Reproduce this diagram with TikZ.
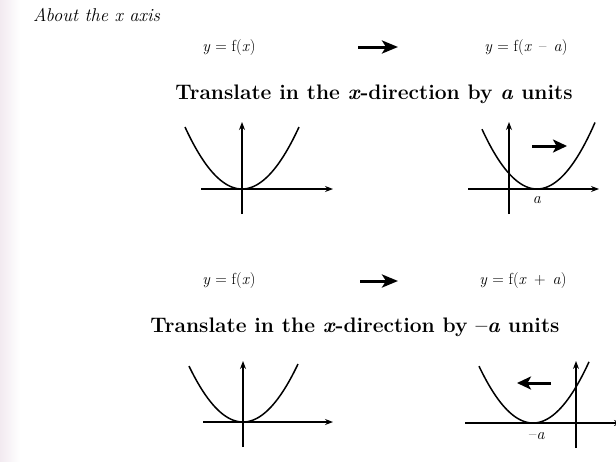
\documentclass[tikz,border=0pt]{standalone}
\usetikzlibrary{arrows.meta}
\definecolor{pageedge}{RGB}{242,234,240}
\newcommand{\vy}{\textit{y}}
\newcommand{\vx}{\textit{x}}
\newcommand{\va}{\textit{a}}
\newcommand{\opsp}{\hspace{0.45em}}
\begin{document}
\begin{tikzpicture}[x=1pt,y=-1pt,
  axis/.style={line width=1.1pt,-{Stealth[length=8pt,width=6pt]}},
  curve/.style={line width=1.5pt},
  bigarrow/.style={line width=3pt,-{Stealth[length=16pt,width=13pt,inset=4pt]}},
  midarrow/.style={line width=3pt,-{Stealth[length=14pt,width=13pt,inset=3.5pt]}},
  formula/.style={font=\fontsize{16}{19}\selectfont, inner sep=0pt},
  heading/.style={font=\bfseries\fontsize{21}{24}\selectfont, inner sep=0pt},
  caption/.style={font=\itshape\fontsize{18.5}{21}\selectfont, inner sep=0pt, anchor=west},
  lbl/.style={font=\fontsize{16}{18}\selectfont, inner sep=0pt}]
\clip (0,0) rectangle (616,461);
\fill[left color=pageedge, right color=white] (0,0) rectangle (20,461);

% title
\node[caption] (cap) at (33,15) {About the x axis};

% first rule
\node[formula] (f1) at (229,48) {\vy{} = f(\vx)};
\node[formula] (f2) at (526,48) {\vy{} = f(\vx\opsp\textendash\opsp\va)};
\coordinate (r1s) at (358,47);
\coordinate (r1e) at (398,47);
\draw[bigarrow] (r1s) -- (r1e);
\node[heading] (h1) at (374,94) {Translate in the \textit{x}-direction by \textit{a} units};

% top-left graph
\coordinate (tlxa) at (201,189); \coordinate (tlxb) at (333,189);
\coordinate (tlya) at (242,214); \coordinate (tlyb) at (242,122);
\draw[axis] (tlxa) -- (tlxb);
\draw[axis] (tlya) -- (tlyb);
\draw[curve] plot[domain=-57:57, samples=60, smooth] ({242+\x},{189-62*(\x/57)^2});

% top-right graph
\coordinate (trxa) at (468,189); \coordinate (trxb) at (599,189);
\coordinate (trya) at (509,214); \coordinate (tryb) at (509,122);
\draw[axis] (trxa) -- (trxb);
\draw[axis] (trya) -- (tryb);
\draw[curve] plot[domain=-55:58, samples=60, smooth] ({537+\x},{189-62*(\x/56)^2});
\coordinate (m1s) at (532,146); \coordinate (m1e) at (567,146);
\draw[midarrow] (m1s) -- (m1e);
\node[lbl] (la) at (537,200) {\va};

% second rule
\node[formula] (f3) at (229,281) {\vy{} = f(\vx)};
\node[formula] (f4) at (523,281) {\vy{} = f(\vx\opsp+\opsp\va)};
\coordinate (r2s) at (360,281);
\coordinate (r2e) at (398,281);
\draw[bigarrow] (r2s) -- (r2e);
\node[heading] (h2) at (355,327) {Translate in the \textit{x}-direction by \textendash\textit{a} units};

% bottom-left graph
\coordinate (blxa) at (203,422); \coordinate (blxb) at (333,422);
\coordinate (blya) at (243,447); \coordinate (blyb) at (243,361);
\draw[axis] (blxa) -- (blxb);
\draw[axis] (blya) -- (blyb);
\draw[curve] plot[domain=-54:55, samples=60, smooth] ({243+\x},{422-58*(\x/55)^2});

% bottom-right graph
\coordinate (brxa) at (465,423); \coordinate (brxb) at (622,423);
\coordinate (brya) at (576,448); \coordinate (bryb) at (576,361);
\draw[axis] (brxa) -- (brxb);
\draw[axis] (brya) -- (bryb);
\draw[curve] plot[domain=-54:56, samples=60, smooth] ({533+\x},{423-59*(\x/55)^2});
\coordinate (m2s) at (551,383); \coordinate (m2e) at (517,383);
\draw[midarrow] (m2s) -- (m2e);
\node[lbl] (lma) at (537,436) {\textendash\va};
\end{tikzpicture}
\end{document}
